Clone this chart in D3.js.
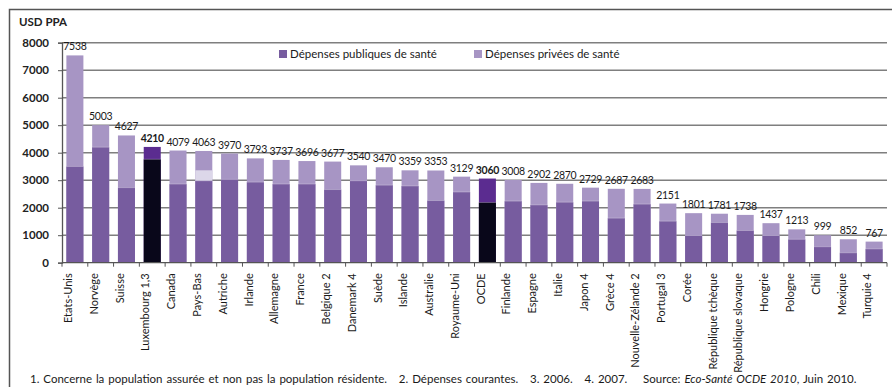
<!DOCTYPE html>
<html>
<head>
<meta charset="utf-8">
<script src="https://cdn.jsdelivr.net/npm/d3@7"></script>
<style>
  body { margin: 0; background: #fff; }
  svg { font-family: Lato, "Open Sans", sans-serif; }
</style>
</head>
<body>
<div id="chart"></div>
<script>
// data
var countries = ["Etats-Unis", "Norvège", "Suisse", "Luxembourg 1,3", "Canada", "Pays-Bas", "Autriche",
  "Irlande", "Allemagne", "France", "Belgique 2", "Danemark 4", "Suède", "Islande", "Australie",
  "Royaume-Uni", "OCDE", "Finlande", "Espagne", "Italie", "Japon 4", "Grèce 4", "Nouvelle-Zélande 2",
  "Portugal 3", "Corée", "République tchèque", "République slovaque", "Hongrie", "Pologne", "Chili",
  "Mexique", "Turquie 4"];
var totals = [7538, 5003, 4627, 4210, 4079, 4063, 3970, 3793, 3737, 3696, 3677, 3540, 3470, 3359, 3353,
  3129, 3060, 3008, 2902, 2870, 2729, 2687, 2683, 2151, 1801, 1781, 1738, 1437, 1213, 999, 852, 767];
var publicSpend = [3500, 4200, 2730, 3760, 2860, 2980, 3030, 2930, 2860, 2860, 2660, 2980, 2820, 2790, 2260,
  2570, 2190, 2240, 2100, 2200, 2240, 1620, 2130, 1510, 990, 1460, 1170, 990, 850, 580, 360, 500];
// Pays-Bas has an unallocated band between public and private
var unallocated = {"Pays-Bas": 3360};
var highlighted = ["Luxembourg 1,3", "OCDE"];
var yTicks = [0, 1000, 2000, 3000, 4000, 5000, 6000, 7000, 8000];
var legendLabels = ["Dépenses publiques de santé", "Dépenses privées de santé"];

var W = 892, H = 387;
var margin = {left: 62, right: 5};

var svg = d3.select("#chart").append("svg")
    .attr("width", W)
    .attr("height", H);

// outer frame
svg.append("path")
    .attr("d", "M9.5," + H + "V9.5H" + W)
    .attr("fill", "none")
    .attr("stroke", "#555")
    .attr("stroke-width", 1.5);

var x = d3.scaleBand()
    .domain(countries)
    .range([margin.left, W - margin.right])
    .paddingInner(0.34)
    .paddingOuter(0.17);

var y = d3.scaleLinear()
    .domain([0, 8000])
    .range([262.7, 42.7]);

// gridlines
svg.append("g")
    .selectAll("line")
    .data(yTicks.slice(1))
    .enter().append("line")
    .attr("x1", margin.left)
    .attr("x2", 887)
    .attr("y1", function(d) { return y(d); })
    .attr("y2", function(d) { return y(d); })
    .attr("stroke", "#7f7f7f")
    .attr("stroke-width", 1.5);

var data = countries.map(function(c, i) {
    return {name: c, total: totals[i], pub: publicSpend[i], mid: unallocated[c]};
});

var bars = svg.append("g");

// private (full height)
bars.selectAll("rect.priv")
    .data(data)
    .enter().append("rect")
    .attr("class", "priv")
    .attr("x", function(d) { return x(d.name); })
    .attr("width", x.bandwidth())
    .attr("y", function(d) { return y(d.total); })
    .attr("height", function(d) { return y(0) - y(d.total); })
    .attr("fill", function(d) { return highlighted.indexOf(d.name) >= 0 ? "#5b2c90" : "#a795c4"; });

// unallocated band
bars.selectAll("rect.mid")
    .data(data.filter(function(d) { return d.mid; }))
    .enter().append("rect")
    .attr("x", function(d) { return x(d.name); })
    .attr("width", x.bandwidth())
    .attr("y", function(d) { return y(d.mid); })
    .attr("height", function(d) { return y(d.pub) - y(d.mid); })
    .attr("fill", "#dcd7e9");

// public
bars.selectAll("rect.pub")
    .data(data)
    .enter().append("rect")
    .attr("class", "pub")
    .attr("x", function(d) { return x(d.name); })
    .attr("width", x.bandwidth())
    .attr("y", function(d) { return y(d.pub); })
    .attr("height", function(d) { return y(0) - y(d.pub); })
    .attr("fill", function(d) { return highlighted.indexOf(d.name) >= 0 ? "#09071a" : "#775c9f"; });

// thin separator line between public and private
bars.selectAll("line.sep")
    .data(data)
    .enter().append("line")
    .attr("x1", function(d) { return x(d.name); })
    .attr("x2", function(d) { return x(d.name) + x.bandwidth(); })
    .attr("y1", function(d) { return y(d.pub); })
    .attr("y2", function(d) { return y(d.pub); })
    .attr("stroke", "#ffffff")
    .attr("stroke-opacity", 0.35)
    .attr("stroke-width", 0.8);

// value labels
svg.append("g")
    .selectAll("text")
    .data(data)
    .enter().append("text")
    .attr("x", function(d) { return x(d.name) + x.bandwidth() / 2; })
    .attr("y", function(d) { return y(d.total) - 5; })
    .attr("text-anchor", "middle")
    .attr("font-size", 10.5)
    .attr("letter-spacing", -0.3)
    .attr("font-weight", function(d) { return highlighted.indexOf(d.name) >= 0 ? "bold" : "normal"; })
    .attr("fill", "#1a1a1a")
    .text(function(d) { return d.total; });

// y axis
var yAxis = svg.append("g")
    .attr("transform", "translate(" + margin.left + ",0)")
    .call(d3.axisLeft(y).tickValues(yTicks).tickFormat(d3.format("d")).tickSize(4).tickPadding(9));
yAxis.select(".domain").attr("stroke", "#555").attr("stroke-width", 1.3);
yAxis.selectAll(".tick line").attr("stroke", "#555");
yAxis.selectAll(".tick text")
    .attr("font-family", "Lato, sans-serif")
    .attr("font-size", 11.5)
    .attr("font-weight", "bold")
    .attr("fill", "#222");

// x axis
var xAxis = svg.append("g")
    .attr("transform", "translate(0," + y(0) + ")")
    .call(d3.axisBottom(x).tickSize(0).tickPadding(8));
xAxis.select(".domain").attr("stroke", "#555").attr("stroke-width", 1.3)
    .attr("d", "M" + margin.left + ",0H887");
xAxis.selectAll(".tick text")
    .attr("font-family", "Lato, sans-serif")
    .attr("font-size", 11)
    .attr("fill", "#1a1a1a")
    .attr("transform", "rotate(-90)")
    .attr("text-anchor", "end")
    .attr("dx", "-0.6em")
    .attr("dy", "-0.25em")
    .attr("x", -4)
    .attr("y", 0);

// tick marks between categories
var step = x.step();
xAxis.append("g")
    .selectAll("line")
    .data(countries.concat(["_end"]))
    .enter().append("line")
    .attr("x1", function(d, i) { return x(countries[0]) - step * x.paddingInner() / 2 + i * step; })
    .attr("x2", function(d, i) { return x(countries[0]) - step * x.paddingInner() / 2 + i * step; })
    .attr("y1", 0)
    .attr("y2", 4)
    .attr("stroke", "#555");

// y title
svg.append("text")
    .attr("x", 19)
    .attr("y", 26)
    .attr("font-size", 11.5)
    .attr("font-weight", "bold")
    .attr("fill", "#222")
    .text("USD PPA");

// legend
var legendColors = ["#775c9f", "#a795c4"];
var legendX = [279, 474];
var lg = svg.append("g");
legendLabels.forEach(function(l, i) {
    lg.append("rect")
        .attr("x", legendX[i])
        .attr("y", 50)
        .attr("width", 8)
        .attr("height", 8)
        .attr("fill", legendColors[i]);
    lg.append("text")
        .attr("x", legendX[i] + 11)
        .attr("y", 58)
        .attr("font-size", 11.5)
        .attr("fill", "#1a1a1a")
        .text(l);
});

// footnote
var foot = svg.append("text")
    .attr("x", 30)
    .attr("y", 383)
    .attr("font-size", 11.5)
    .attr("word-spacing", 1)
    .attr("fill", "#1a1a1a");
foot.append("tspan").attr("xml:space", "preserve")
    .text("1. Concerne la population assurée et non pas la population résidente.   2. Dépenses courantes.   3. 2006.   4. 2007.    Source: ");
foot.append("tspan").attr("font-style", "italic").text("Eco-Santé OCDE 2010");
foot.append("tspan").text(", Juin 2010.");
</script>
</body>
</html>
